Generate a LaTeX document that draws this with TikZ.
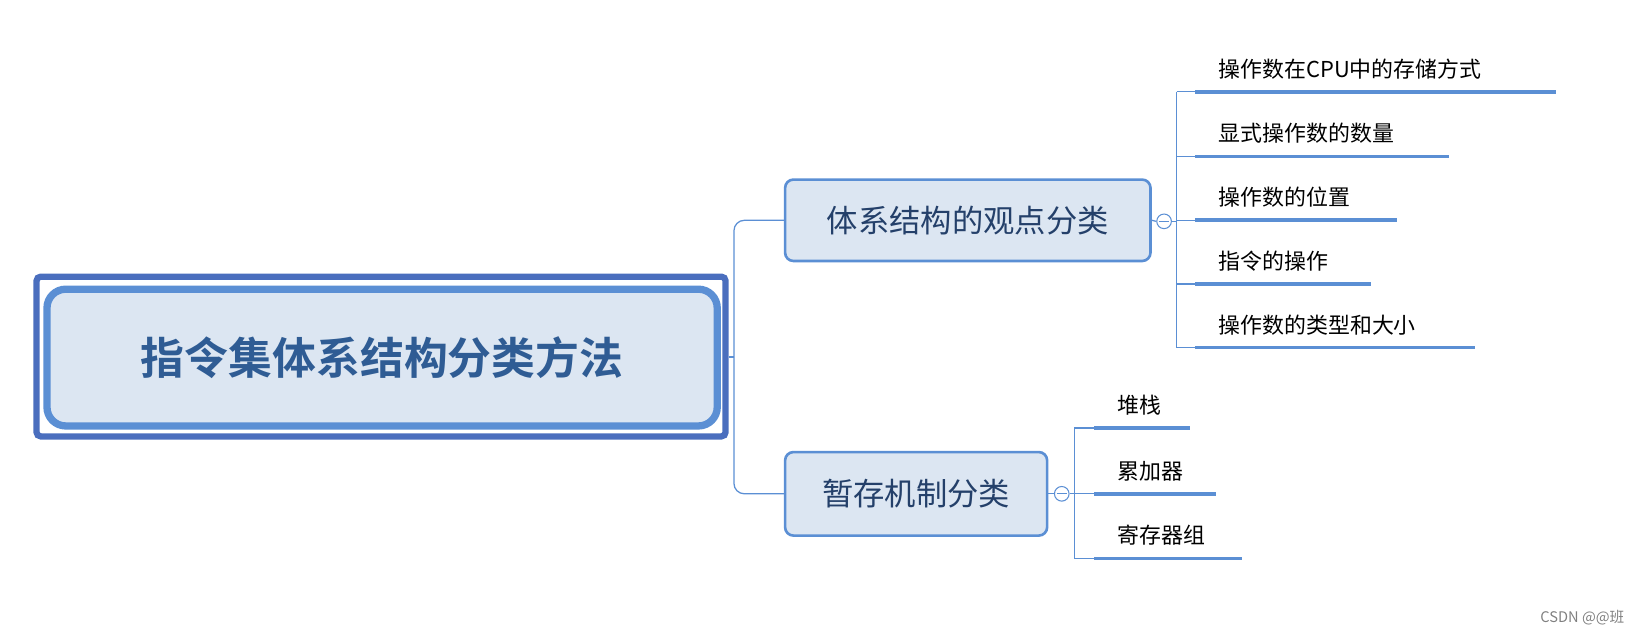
\documentclass[tikz,border=0pt]{standalone}
\usepackage{fontspec}
\setmainfont{Noto Sans CJK SC}
\newfontfamily\cjkb{Noto Sans CJK SC Bold}
\definecolor{dk}{HTML}{4A6EBE}
\definecolor{md}{HTML}{5B8FD4}
\definecolor{fl}{HTML}{DCE6F2}
\definecolor{tx}{HTML}{2F5C94}
\definecolor{tb}{HTML}{24406A}
\begin{document}
\begin{tikzpicture}[x=1pt,y=-1pt,
  branch/.style={draw=md,line width=2.5pt,fill=fl,rounded corners=8pt,inner sep=0pt,font=\fontsize{30}{30}\selectfont,text=tb},
  conn/.style={draw=md,line width=1.2pt},
  uline/.style={draw=md,line width=3.5pt},
  leaf/.style={anchor=base west,inner sep=0pt,font=\fontsize{21}{21}\selectfont,text=black},
  tog/.style={circle,draw=md,line width=1pt,fill=white,minimum size=14pt,inner sep=0pt}]
\useasboundingbox (0,0) rectangle (1568,612);
% root
\node[draw=dk,line width=6pt,rounded corners=4pt,minimum width=660pt,minimum height=153pt] (rootout) at (365,341.5) {};
\node[draw=md,line width=7pt,fill=fl,rounded corners=18pt,minimum width=642pt,minimum height=131pt,
  font=\cjkb\fontsize{42}{42}\selectfont,text=tx] (root) at (366,342.5) {指令集体系结构分类方法};
% branches
\node[branch,minimum width=350pt,minimum height=78pt] (b1) at (927,211) {体系结构的观点分类};
\node[branch,minimum width=251pt,minimum height=80pt] (b2) at (877.5,473) {暂存机制分类};
\coordinate (j) at (703,342);
\draw[conn] (rootout.east|-j) -- (j);
\draw[conn,rounded corners=10pt] (j) |- (b1.west);
\draw[conn,rounded corners=10pt] (j) |- (b2.west);
% toggles
\node[tog] (t1) at (1115,212) {};
\draw[md,line width=1pt] (1110,212) -- (1120,212);
\node[tog] (t2) at (1017,473) {};
\draw[md,line width=1pt] (1012,473) -- (1022,473);
\draw[conn] (b1.east) -- (t1.west);
\draw[conn] (b2.east) -- (t2.west);
% leaves of b1
\draw[conn] (t1.east) -- (1127,212);
\draw[conn] (1127,88) -- (1127,333);
\foreach \y/\e/\t/\n in {88/1490/操作数在CPU中的存储方式/l1,150/1388/显式操作数的数量/l2,211/1338/操作数的位置/l3,272/1313/指令的操作/l4,333/1413/操作数的类型和大小/l5}{
  \draw[conn] (1127,\y) -- (1145,\y);
  \draw[uline] (1145,\y) -- (\e,\y);
  \node[leaf] (\n) at (1167,\y-14) {\t};
}
% leaves of b2
\draw[conn] (t2.east) -- (1029,473);
\draw[conn] (1029,410) -- (1029,535);
\foreach \y/\e/\t/\n in {410/1140/堆栈/m1,473/1165/累加器/m2,535/1190/寄存器组/m3}{
  \draw[conn] (1029,\y) -- (1048,\y);
  \draw[uline] (1048,\y) -- (\e,\y);
  \node[leaf] (\n) at (1070,\y-14) {\t};
}
\node[anchor=base east,inner sep=0pt,font=\fontsize{14}{14}\selectfont,text=gray] (wm) at (1556,596) {CSDN @@班};
\end{tikzpicture}
\end{document}
